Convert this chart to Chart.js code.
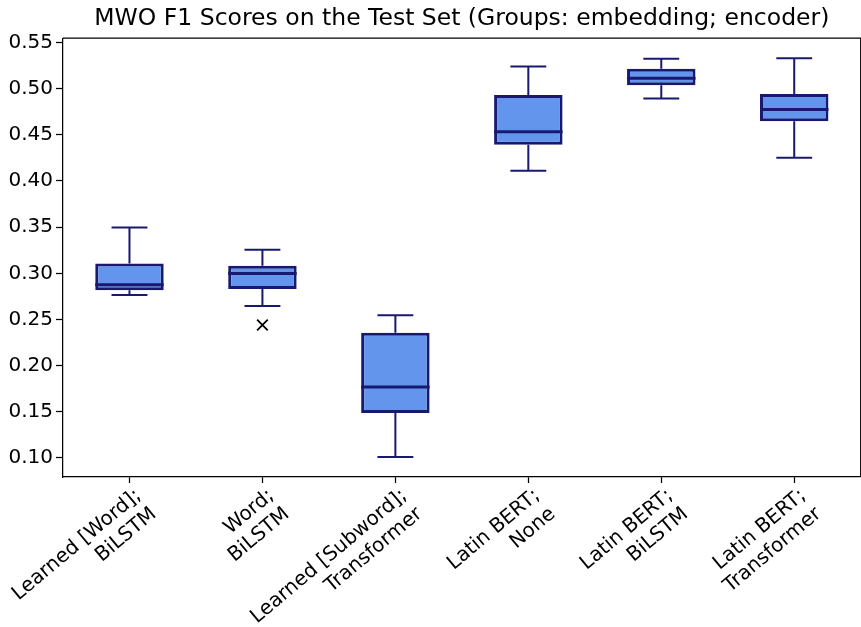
<!DOCTYPE html>
<html>
<head>
<meta charset="utf-8">
<script src="https://cdn.jsdelivr.net/npm/chart.js@4"></script>
<style>
  html, body { margin: 0; padding: 0; background: #fff; overflow: hidden; }
  #wrap { width: 861px; height: 627px; overflow: hidden; }
</style>
</head>
<body>
<div id="wrap"><canvas id="boxChart" width="870" height="627"></canvas></div>
<script>
// box stats
const categories = [
  ['Learned [Word];', 'BiLSTM'],
  ['Word;', 'BiLSTM'],
  ['Learned [Subword];', 'Transformer'],
  ['Latin BERT;', 'None'],
  ['Latin BERT;', 'BiLSTM'],
  ['Latin BERT;', 'Transformer']
];
const whiskerLow = [0.2765, 0.2646, 0.101, 0.4111, 0.4892, 0.4252];
const q1 = [0.2816, 0.2831, 0.1488, 0.4393, 0.5036, 0.4646];
const medians = [0.2877, 0.2997, 0.177, 0.4534, 0.5112, 0.4773];
const q3 = [0.3105, 0.3083, 0.2356, 0.4932, 0.5214, 0.4943];
const whiskerHigh = [0.3496, 0.3254, 0.2545, 0.5239, 0.5323, 0.533];
const outliers = [null, 0.244, null, null, null, null];
const yTicks = [0.10, 0.15, 0.20, 0.25, 0.30, 0.35, 0.40, 0.45, 0.50, 0.55];

const EDGE = '#191970';
const FILL = '#6495ED';

Chart.defaults.font.family = "'DejaVu Sans', sans-serif";
Chart.defaults.color = '#000';

// whiskers, caps, medians and the top/right spines
const boxParts = {
  id: 'boxParts',
  afterLayout(chart) {
    // centre the title over the plot area like matplotlib does
    const t = chart.titleBlock;
    if (t) {
      t.left = chart.chartArea.left;
      t.right = chart.chartArea.right;
      t.width = t.right - t.left;
    }
  },
  afterDatasetsDraw(chart) {
    const ctx = chart.ctx;
    const y = chart.scales.y;
    const x = chart.scales.x;
    const meta = chart.getDatasetMeta(0);
    const capHalf = (x.getPixelForValue(1) - x.getPixelForValue(0)) * 0.135;
    ctx.save();
    ctx.strokeStyle = EDGE;
    ctx.lineCap = 'butt';
    meta.data.forEach((bar, i) => {
      const cx = bar.x;
      const yLo = y.getPixelForValue(whiskerLow[i]);
      const yQ1 = y.getPixelForValue(q1[i]);
      const yQ3 = y.getPixelForValue(q3[i]);
      const yHi = y.getPixelForValue(whiskerHigh[i]);
      const yMed = y.getPixelForValue(medians[i]);
      ctx.lineWidth = 2;
      ctx.beginPath();
      ctx.moveTo(cx, yQ3); ctx.lineTo(cx, yHi);
      ctx.moveTo(cx, yQ1); ctx.lineTo(cx, yLo);
      ctx.moveTo(cx - capHalf, yHi); ctx.lineTo(cx + capHalf, yHi);
      ctx.moveTo(cx - capHalf, yLo); ctx.lineTo(cx + capHalf, yLo);
      ctx.stroke();
      ctx.lineWidth = 3;
      ctx.beginPath();
      ctx.moveTo(cx - bar.width / 2, yMed);
      ctx.lineTo(cx + bar.width / 2, yMed);
      ctx.stroke();
    });
    const a = chart.chartArea;
    ctx.strokeStyle = '#000';
    ctx.lineWidth = 1.25;
    ctx.beginPath();
    ctx.moveTo(a.left, a.top); ctx.lineTo(a.right, a.top); ctx.lineTo(a.right, a.bottom);
    ctx.stroke();
    ctx.restore();
  }
};

new Chart(document.getElementById('boxChart'), {
  type: 'bar',
  data: {
    labels: categories,
    datasets: [{
      label: 'IQR',
      data: q1.map((v, i) => [v, q3[i]]),
      backgroundColor: FILL,
      borderColor: EDGE,
      borderWidth: 3,
      borderSkipped: false,
      barPercentage: 0.515,
      categoryPercentage: 1
    }, {
      type: 'line',
      label: 'outliers',
      data: outliers,
      showLine: false,
      pointStyle: 'crossRot',
      pointRadius: 7.5,
      pointBorderWidth: 1.8,
      pointBorderColor: '#000',
      pointBackgroundColor: '#000'
    }]
  },
  options: {
    responsive: false,
    animation: false,
    layout: { padding: { top: 0, right: 1, left: 0, bottom: 0 } },
    plugins: {
      legend: { display: false },
      tooltip: { enabled: false },
      title: {
        display: true,
        text: 'MWO F1 Scores on the Test Set (Groups: embedding; encoder)',
        font: { size: 23.5, weight: 'normal' },
        color: '#000',
        padding: { top: 5, bottom: 5 }
      }
    },
    scales: {
      x: {
        offset: true,
        grid: { display: true, drawOnChartArea: false, offset: false, drawTicks: true, tickLength: 6, tickWidth: 1.25, tickColor: '#000' },
        border: { display: true, color: '#000', width: 1.25 },
        ticks: { font: { size: 20 }, color: '#000', minRotation: 40, maxRotation: 40, autoSkip: false, padding: 1, labelOffset: 9 },
        afterFit(scale) {
          scale.height = 150;
          scale.paddingLeft = 0;
          scale.paddingRight = 0;
        }
      },
      y: {
        min: 0.0794,
        max: 0.5546,
        grid: { display: true, drawOnChartArea: false, drawTicks: true, tickLength: 7, tickWidth: 1.25, tickColor: '#000' },
        border: { display: true, color: '#000', width: 1.25 },
        ticks: { font: { size: 20 }, color: '#000', padding: 3, callback: v => v.toFixed(2) },
        afterBuildTicks(scale) { scale.ticks = yTicks.map(v => ({ value: v })); },
        afterFit(scale) {
          scale.width = 63;
          scale.paddingTop = 0;
          scale.paddingBottom = 0;
        }
      }
    }
  },
  plugins: [boxParts]
});
</script>
</body>
</html>
